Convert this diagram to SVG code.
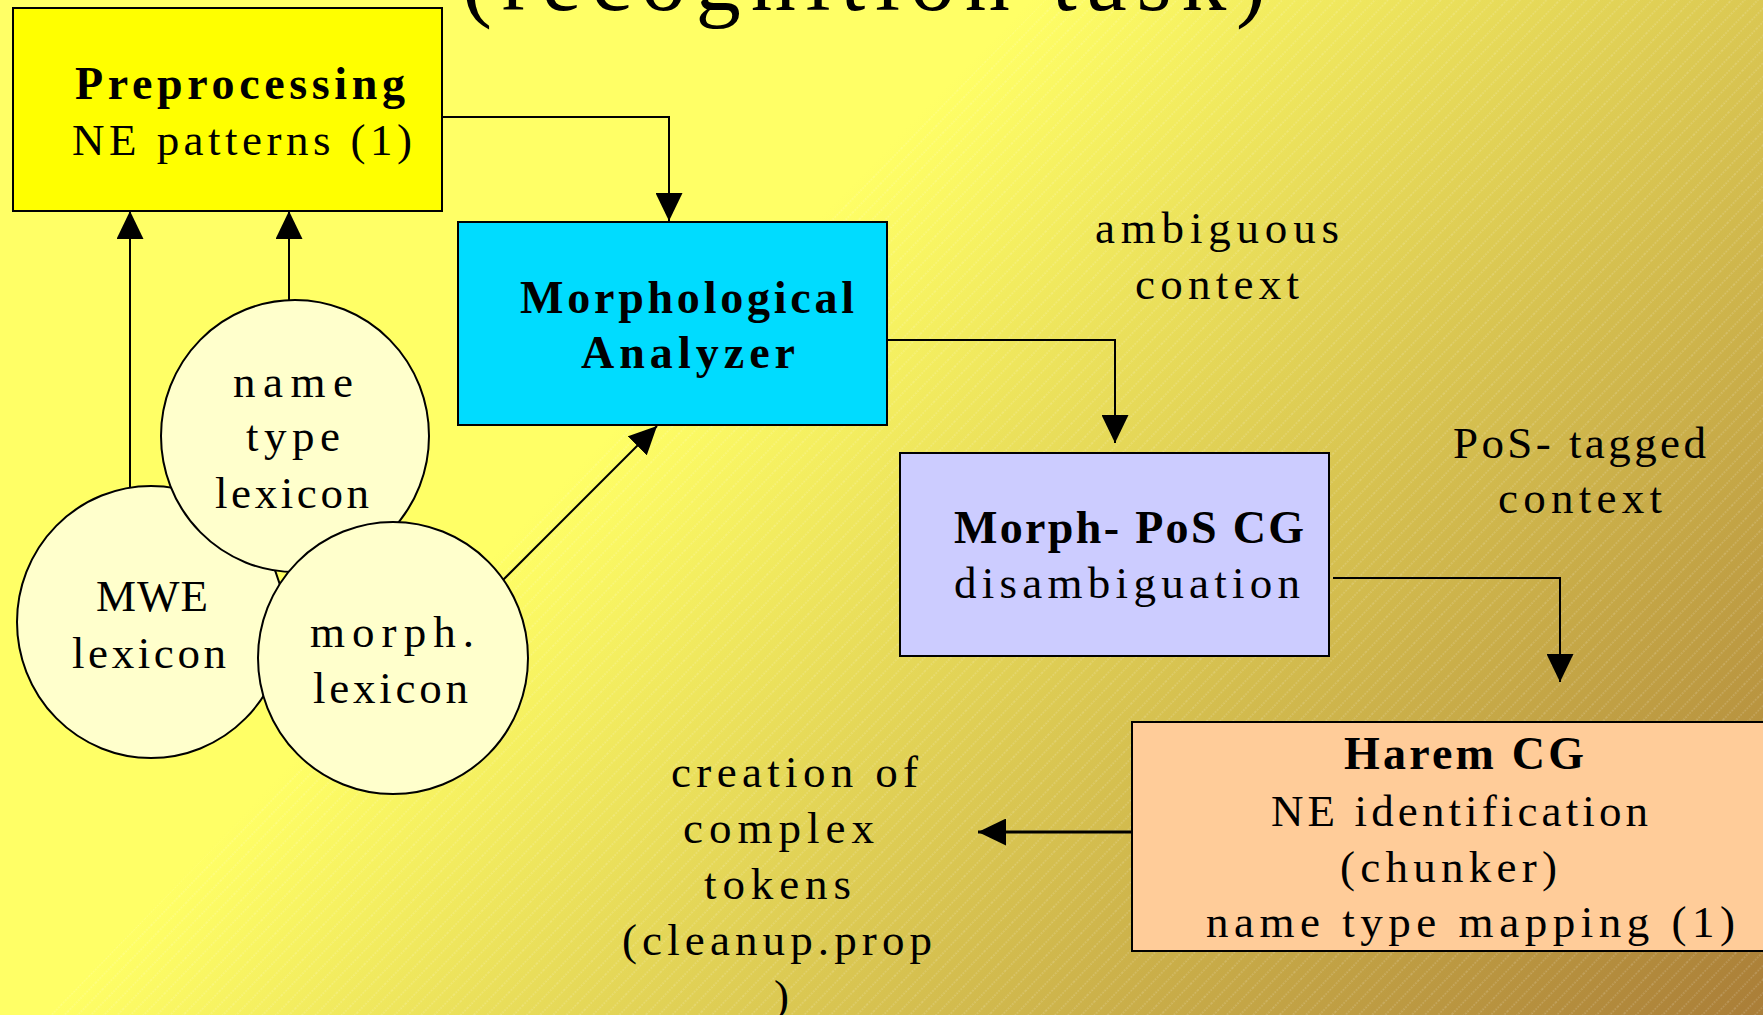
<svg xmlns="http://www.w3.org/2000/svg" width="1763" height="1015" viewBox="0 0 1763 1015">
<style>
.box{stroke:#000;stroke-width:2}
.ell{fill:#ffffcc;stroke:#000;stroke-width:2}
.t{font-family:"Liberation Serif","Times New Roman",serif;font-size:45px;fill:#000}
.b{font-weight:bold;font-size:46px}
.con{fill:none;stroke:#000;stroke-width:2}
</style>
<defs>
<linearGradient id="bg" gradientUnits="userSpaceOnUse" x1="1030" y1="0" x2="1912" y2="854">
<stop offset="0" stop-color="#ffff66"/>
<stop offset="1" stop-color="#aa7e38"/>
</linearGradient>
<pattern id="hatch" patternUnits="userSpaceOnUse" width="9.5" height="40" patternTransform="rotate(44)">
<line x1="1" y1="0" x2="1" y2="40" stroke="#ffffff" stroke-width="1" stroke-opacity="0.3" stroke-dasharray="1.5 1.5"/>
</pattern>
<clipPath id="hclip"><polygon points="1045,0 1763,0 1763,1015 50,1015"/></clipPath>
<marker id="ah" markerUnits="userSpaceOnUse" markerWidth="28" markerHeight="27" viewBox="0 0 28 27" refX="28" refY="13.5" orient="auto">
<path d="M0,0 L28,13.5 L0,27 Z" fill="#000"/>
</marker>
</defs>
<rect x="0" y="0" width="1763" height="1015" fill="url(#bg)"/>
<rect x="0" y="0" width="1763" height="1015" fill="url(#hatch)" clip-path="url(#hclip)"/>
<text class="t" x="462" y="10" font-size="90" style="font-size:90px" textLength="804" lengthAdjust="spacing">(recognition task)</text>

<g id="connectors">
<path class="con" d="M442,117 H669 V221" marker-end="url(#ah)"/>
<path class="con" d="M130,487 V211" marker-end="url(#ah)"/>
<path class="con" d="M289,300 V211" marker-end="url(#ah)"/>
<path class="con" d="M503,580 L657,426" marker-end="url(#ah)"/>
<path class="con" d="M887,340 H1115 V443" marker-end="url(#ah)"/>
<path class="con" d="M1333,578 H1560 V682" marker-end="url(#ah)"/>
<path class="con" d="M1132,832 H978" style="stroke-width:3" marker-end="url(#ah)"/>
</g>

<g id="preprocessing">
<rect class="box" x="13" y="8" width="429" height="203" fill="#ffff00"/>
<text class="t b" x="75" y="99" textLength="330" lengthAdjust="spacing">Preprocessing</text>
<text class="t" x="72" y="155" textLength="340" lengthAdjust="spacing">NE patterns (1)</text>
</g>

<g id="morph-analyzer">
<rect class="box" x="458" y="222" width="429" height="203" fill="#00dcff"/>
<text class="t b" x="520" y="313" textLength="334" lengthAdjust="spacing">Morphological</text>
<text class="t b" x="581" y="368" textLength="214" lengthAdjust="spacing">Analyzer</text>
</g>

<g id="mwe-lexicon">
<ellipse class="ell" cx="151" cy="622" rx="134" ry="136"/>
<text class="t" x="96" y="611" textLength="112" lengthAdjust="spacing">MWE</text>
<text class="t" x="72" y="668" textLength="154" lengthAdjust="spacing">lexicon</text>
</g>

<g id="name-type-lexicon">
<ellipse class="ell" cx="295" cy="436" rx="134" ry="136"/>
<text class="t" x="233" y="397" textLength="120" lengthAdjust="spacing">name</text>
<text class="t" x="246" y="451" textLength="94" lengthAdjust="spacing">type</text>
<text class="t" x="215" y="508" textLength="154" lengthAdjust="spacing">lexicon</text>
</g>

<g id="morph-lexicon">
<ellipse class="ell" cx="393" cy="658" rx="135" ry="136"/>
<text class="t" x="310" y="647" textLength="164" lengthAdjust="spacing">morph.</text>
<text class="t" x="313" y="703" textLength="155" lengthAdjust="spacing">lexicon</text>
</g>

<g id="ambiguous-context">
<text class="t" x="1095" y="243" textLength="244" lengthAdjust="spacing">ambiguous</text>
<text class="t" x="1135" y="299" textLength="164" lengthAdjust="spacing">context</text>
</g>

<g id="morph-pos-cg">
<rect class="box" x="900" y="453" width="429" height="203" fill="#ccccff"/>
<text class="t b" x="954" y="543" textLength="350" lengthAdjust="spacing">Morph- PoS CG</text>
<text class="t" x="954" y="598" textLength="346" lengthAdjust="spacing">disambiguation</text>
</g>

<g id="pos-tagged-context">
<text class="t" x="1453" y="458" textLength="253" lengthAdjust="spacing">PoS- tagged</text>
<text class="t" x="1498" y="513" textLength="164" lengthAdjust="spacing">context</text>
</g>

<g id="harem-cg">
<rect class="box" x="1132" y="722" width="632" height="229" fill="#ffcc99"/>
<text class="t b" x="1344" y="769" textLength="240" lengthAdjust="spacing">Harem CG</text>
<text class="t" x="1271" y="826" textLength="377" lengthAdjust="spacing">NE identification</text>
<text class="t" x="1340" y="882" textLength="217" lengthAdjust="spacing">(chunker)</text>
<text class="t" x="1206" y="937" textLength="529" lengthAdjust="spacing">name type mapping (1)</text>
</g>

<g id="complex-tokens">
<text class="t" x="671" y="787" textLength="247" lengthAdjust="spacing">creation of</text>
<text class="t" x="683" y="843" textLength="191" lengthAdjust="spacing">complex</text>
<text class="t" x="704" y="899" textLength="147" lengthAdjust="spacing">tokens</text>
<text class="t" x="622" y="955" textLength="310" lengthAdjust="spacing">(cleanup.prop</text>
<text class="t" x="774" y="1011">)</text>
</g>
</svg>
